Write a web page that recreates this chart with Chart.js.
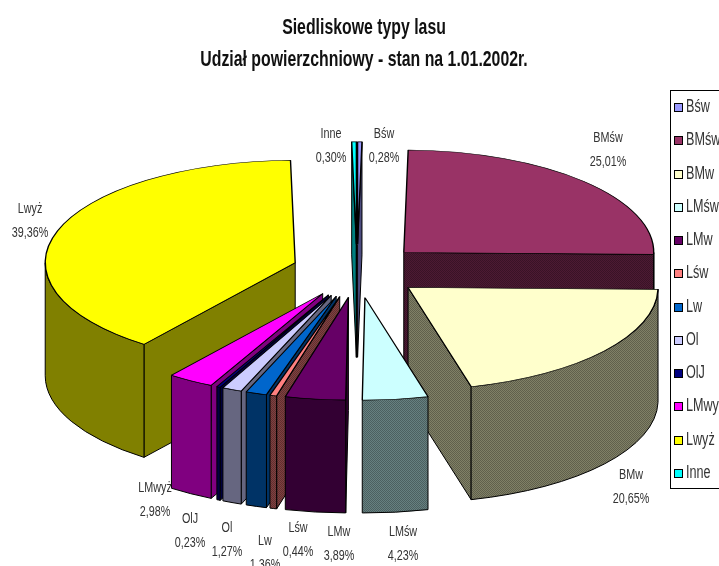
<!DOCTYPE html>
<html>
<head>
<meta charset="utf-8">
<title>Siedliskowe typy lasu</title>
<script src="https://cdn.jsdelivr.net/npm/chart.js@4"></script>
<style>
  html, body { margin: 0; padding: 0; background: #fff; overflow: hidden; }
  canvas { display: block; }
</style>
</head>
<body>
<canvas id="typyLasu" width="719" height="566"></canvas>
<script>
var categories = ['Bśw', 'BMśw', 'BMw', 'LMśw', 'LMw', 'Lśw', 'Lw', 'Ol', 'OlJ', 'LMwyż', 'Lwyż', 'Inne'];
var shares = [0.28, 25.01, 20.65, 4.23, 3.89, 0.44, 1.36, 1.27, 0.23, 2.98, 39.36, 0.30];
var sliceColors = ['#9999FF', '#993366', '#FFFFCC', '#CCFFFF', '#660066', '#FF8080', '#0066CC', '#CCCCFF', '#000080', '#FF00FF', '#FFFF00', '#00FFFF'];
var wallColors = ['#4D4D80', '#4D1A33', '#808066', '#668080', '#330033', '#804040', '#003366', '#666680', '#000040', '#800080', '#808000', '#008080'];
var ditheredWalls = ['BMśw', 'BMw', 'LMśw', 'Lśw'];
var titleLines = ['Siedliskowe typy lasu', 'Udział powierzchniowy - stan na 1.01.2002r.'];

// where each percentage label sits, centre of its two lines
var labelAnchors = [[384, 146], [608, 150], [631, 487], [403, 544], [339, 544], [298, 540], [265, 553], [227, 540], [190, 531], [155, 500], [30, 221], [331, 146]];

var FONT = '"Liberation Sans", Arial, sans-serif';
var radius = 250;
var tilt = 0.41;      // vertical squash of the pie disc
var depth = 113;      // wall height
var explode = 65;     // how far each slice is pulled from the centre

function ditherTile(base) {
  var tile = document.createElement('canvas');
  tile.width = tile.height = 2;
  var t = tile.getContext('2d');
  t.fillStyle = base;
  t.fillRect(0, 0, 2, 2);
  t.fillStyle = 'rgba(0,0,0,0.25)';
  t.fillRect(0, 0, 1, 1);
  t.fillRect(1, 1, 1, 1);
  return tile;
}

// all the lettering here is a condensed face, so squeeze it sideways
function narrowText(ctx, text, x, y, squeeze, align) {
  ctx.save();
  ctx.translate(x, y);
  ctx.scale(squeeze, 1);
  ctx.textAlign = align;
  ctx.textBaseline = 'middle';
  ctx.fillText(text, 0, 0);
  ctx.restore();
}

function drawWalls(ctx, arc, i) {
  var a = arc.startAngle, b = arc.endAngle;
  var mid = (a + b) / 2;
  var cx = arc.x + Math.cos(mid) * explode;
  var cy = arc.y + Math.sin(mid) * explode * tilt;
  var r = arc.outerRadius;
  var fill = wallColors[i];
  if (ditheredWalls.indexOf(categories[i]) >= 0) {
    fill = ctx.createPattern(ditherTile(wallColors[i]), 'repeat');
  }
  ctx.fillStyle = fill;
  ctx.strokeStyle = '#000';
  ctx.lineWidth = 1;

  function radial(angle) {
    var x = cx + Math.cos(angle) * r;
    var y = cy + Math.sin(angle) * r * tilt;
    ctx.beginPath();
    ctx.moveTo(cx, cy);
    ctx.lineTo(x, y);
    ctx.lineTo(x, y + depth);
    ctx.lineTo(cx, cy + depth);
    ctx.closePath();
    ctx.fill();
    ctx.stroke();
  }
  if (Math.cos(a) < 0) radial(a);
  if (Math.cos(b) > 0) radial(b);

  // the rim only shows on the near half of the disc
  var from = Math.max(a, 0), to = Math.min(b, Math.PI);
  if (to > from) {
    ctx.beginPath();
    ctx.ellipse(cx, cy, r, r * tilt, 0, from, to);
    ctx.ellipse(cx, cy + depth, r, r * tilt, 0, to, from, true);
    ctx.closePath();
    ctx.fill();
    ctx.stroke();
  }
}

var pie3d = {
  id: 'pie3d',
  beforeDatasetDraw: function (chart, args) {
    var ctx = chart.ctx;
    var arcs = args.meta.data;
    // paint from the back of the disc towards the viewer
    var order = arcs.map(function (arc, i) { return i; }).sort(function (p, q) {
      var mp = (arcs[p].startAngle + arcs[p].endAngle) / 2;
      var mq = (arcs[q].startAngle + arcs[q].endAngle) / 2;
      return Math.sin(mp) - Math.sin(mq);
    });
    order.forEach(function (i) {
      var arc = arcs[i];
      var mid = (arc.startAngle + arc.endAngle) / 2;
      drawWalls(ctx, arc, i);
      ctx.save();
      ctx.translate(arc.x, arc.y);
      ctx.scale(1, tilt);
      ctx.translate(Math.cos(mid) * explode, Math.sin(mid) * explode);
      ctx.translate(-arc.x, -arc.y);
      arc.draw(ctx);
      ctx.restore();
    });
    return false;
  },
  afterDraw: function (chart) {
    var ctx = chart.ctx;
    ctx.save();
    ctx.fillStyle = '#111';

    ctx.font = 'bold 22px ' + FONT;
    narrowText(ctx, titleLines[0], 364, 28, 0.72, 'center');
    narrowText(ctx, titleLines[1], 364, 60, 0.72, 'center');

    // slice labels
    ctx.fillStyle = '#333';
    ctx.font = '15px ' + FONT;
    categories.forEach(function (name, i) {
      var at = labelAnchors[i];
      narrowText(ctx, name, at[0], at[1] - 12, 0.72, 'center');
      narrowText(ctx, shares[i].toFixed(2).replace('.', ',') + '%', at[0], at[1] + 12, 0.72, 'center');
    });

    // legend, with its frame running off the right edge
    ctx.strokeStyle = '#000';
    ctx.lineWidth = 1;
    ctx.strokeRect(670.5, 90.5, 100, 398);
    ctx.font = '18px ' + FONT;
    categories.forEach(function (name, i) {
      var y = 107 + i * 33.27;
      ctx.fillStyle = sliceColors[i];
      ctx.fillRect(674.5, Math.round(y) - 3.5, 8, 8);
      ctx.strokeRect(674.5, Math.round(y) - 3.5, 8, 8);
      ctx.fillStyle = '#333';
      narrowText(ctx, name, 686, y, 0.7, 'left');
    });
    ctx.restore();
  }
};

new Chart(document.getElementById('typyLasu').getContext('2d'), {
  type: 'pie',
  plugins: [pie3d],
  data: {
    labels: categories,
    datasets: [{
      data: shares,
      backgroundColor: sliceColors,
      borderColor: '#000',
      borderWidth: 1.4,
      radius: radius
    }]
  },
  options: {
    responsive: false,
    animation: false,
    layout: { padding: { right: 5, bottom: 24 } },
    plugins: {
      tooltip: { enabled: false },
      legend: { display: false }
    }
  }
});
</script>
</body>
</html>
